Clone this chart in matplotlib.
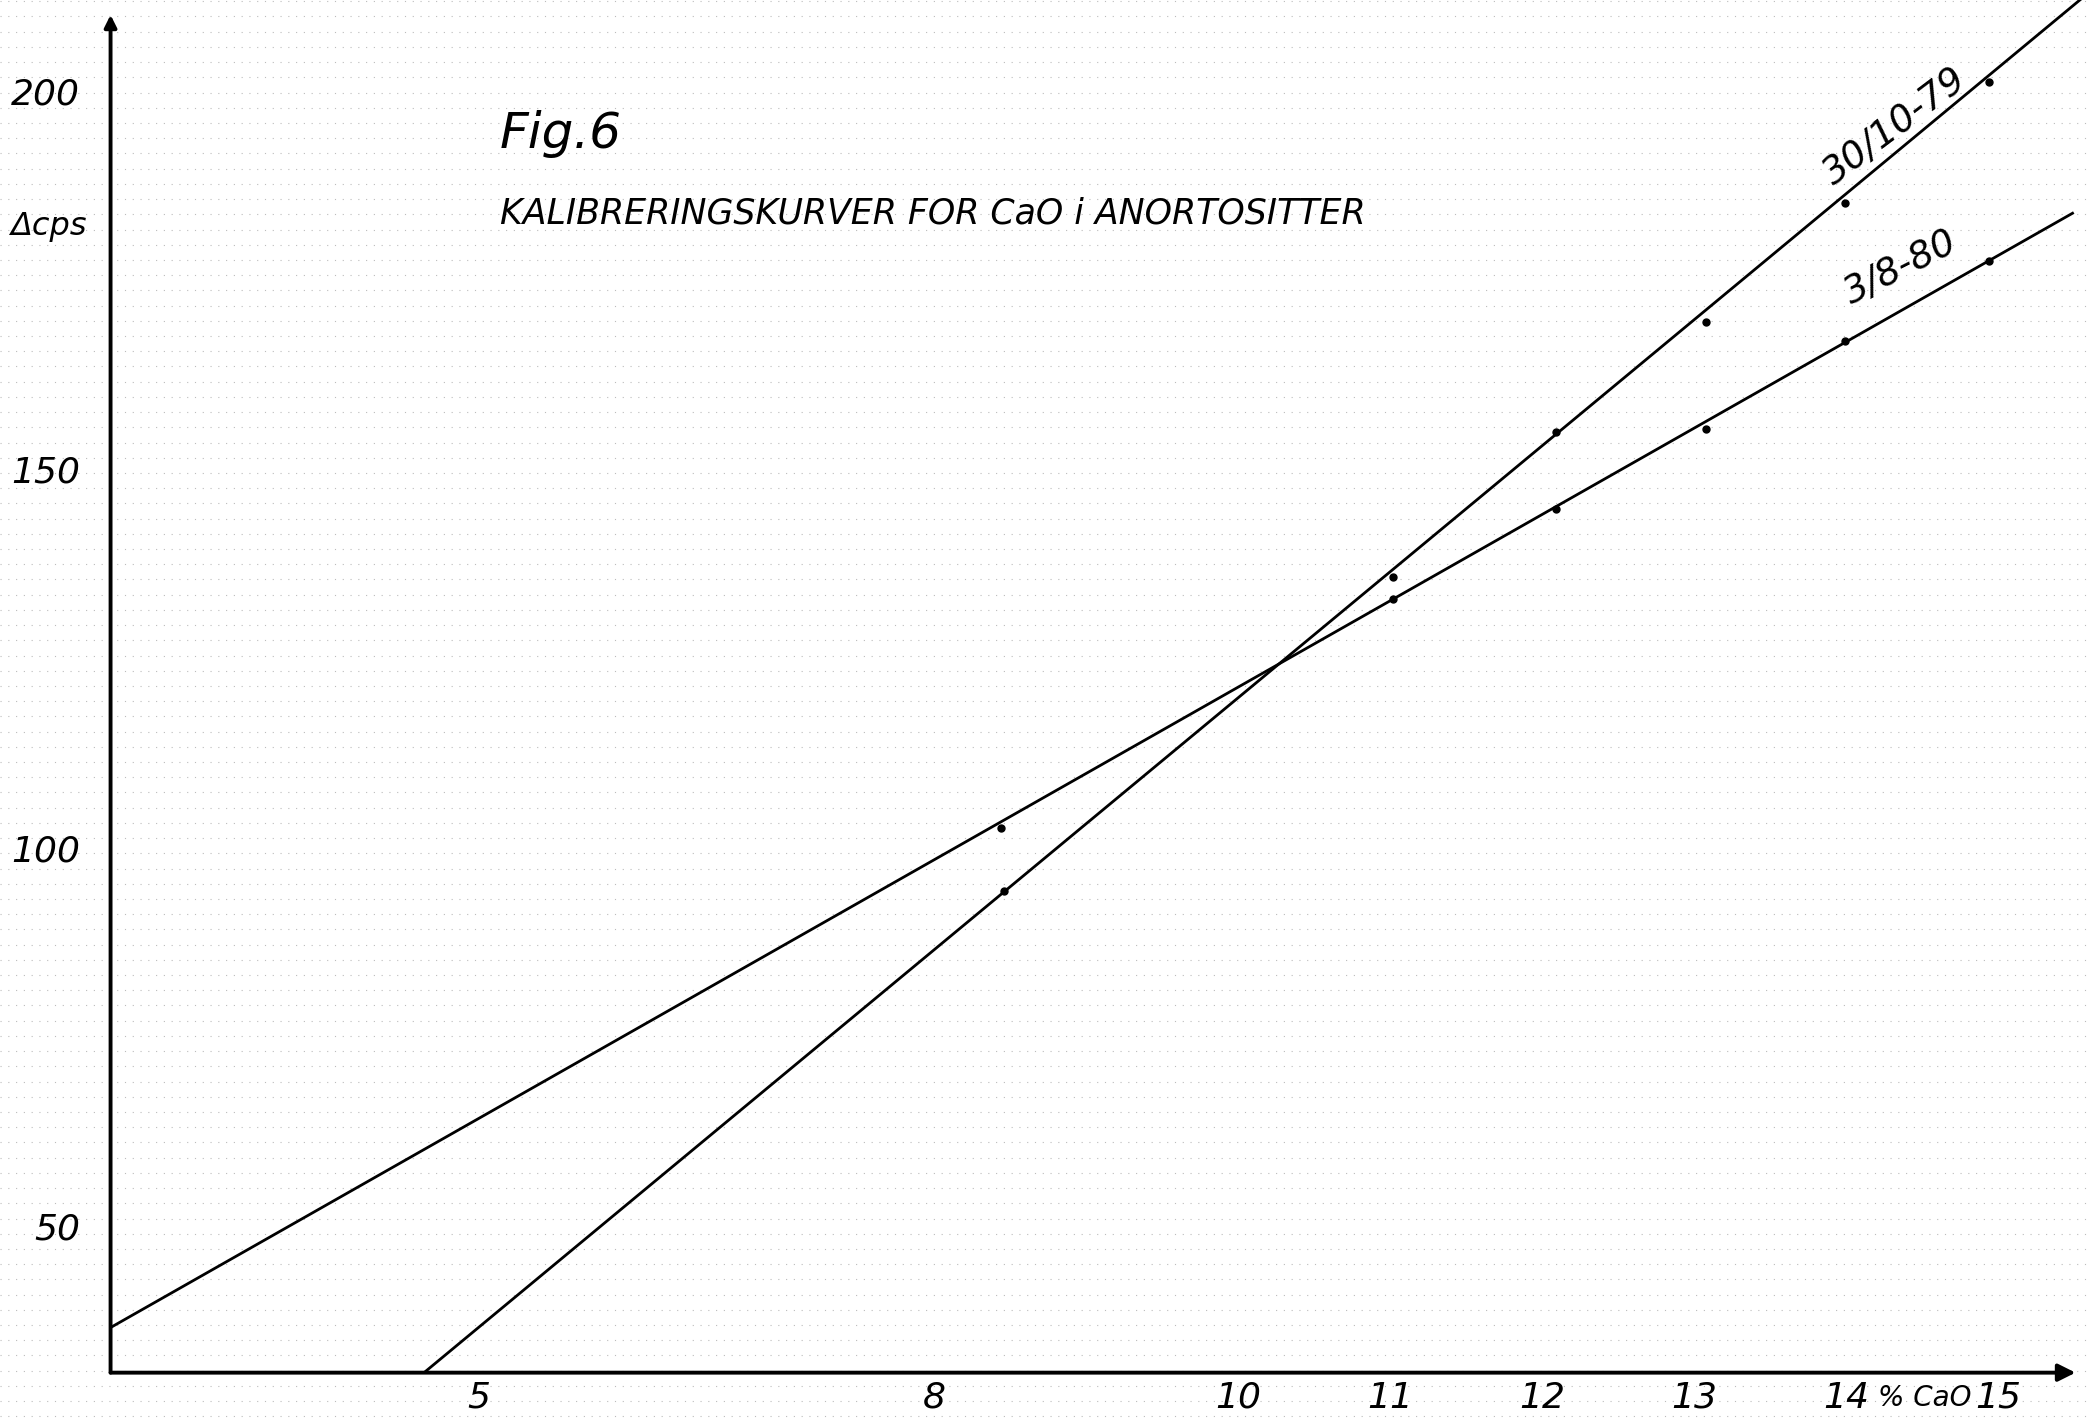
import matplotlib.pyplot as plt
import numpy as np

# calibration lines (x = % CaO, y = delta cps)
line_79_x = [4.64, 15.54]
line_79_y = [30.6, 212.0]
line_80_x = [2.58, 15.49]
line_80_y = [36.6, 183.8]

# measured points
pts_79_x = [8.46, 11.02, 12.09, 13.08, 13.99, 14.94]
pts_79_y = [94.2, 135.7, 154.9, 169.4, 185.2, 201.1]
pts_80_x = [8.44, 11.02, 12.09, 13.08, 13.99, 14.94]
pts_80_y = [102.6, 132.9, 144.7, 155.3, 166.9, 177.5]

x_ticks = [5, 8, 10, 11, 12, 13, 14, 15]
x_labels = ['5', '8', '10', '11', '12', '13', '14', '15']
y_ticks = [50, 100, 150, 200]
y_labels = ['50', '100', '150', '200']

HAND = ['DejaVu Sans Condensed', 'Liberation Sans Narrow', 'DejaVu Sans']
plt.rcParams['font.family'] = HAND
plt.rcParams['font.style'] = 'italic'

X0, X1 = 2.579, 15.605
Y0, Y1 = 30.63, 211.97


def paper(fig):
    # faint dotted rows of the graph paper
    bg = fig.add_axes([0, 0, 1, 1], zorder=-1)
    bg.set_xlim(0, 1)
    bg.set_ylim(0, 1)
    bg.axis('off')
    for yy in np.arange(0.004, 1.0, 0.0107):
        bg.axhline(yy, color='#bcbcbc', lw=0.8, dashes=(1, 6))


def display():
    fig = plt.figure(figsize=(20.9, 14.22), dpi=100)
    paper(fig)
    ax = fig.add_axes([0.0529, 0.0347, 0.9471, 0.9653])
    ax.patch.set_alpha(0)
    ax.set_xlim(X0, X1)
    ax.set_ylim(Y0, Y1)
    for s in ax.spines.values():
        s.set_visible(False)

    # hand-drawn axes with arrows
    ax.annotate('', xy=(15.51, Y0), xytext=(X0, Y0), annotation_clip=False,
                arrowprops=dict(arrowstyle='-|>', lw=2.8, color='black', mutation_scale=26,
                                shrinkA=0, shrinkB=0))
    ax.annotate('', xy=(X0, 210.0), xytext=(X0, Y0), annotation_clip=False,
                arrowprops=dict(arrowstyle='-|>', lw=2.8, color='black', mutation_scale=18,
                                shrinkA=0, shrinkB=0))

    ax.plot(line_79_x, line_79_y, color='black', lw=2.0)
    ax.plot(line_80_x, line_80_y, color='black', lw=2.0)
    ax.plot(pts_79_x, pts_79_y, 'o', color='black', ms=5)
    ax.plot(pts_80_x, pts_80_y, 'o', color='black', ms=5)

    ax.set_xticks(x_ticks, x_labels, fontsize=26)
    ax.set_yticks(y_ticks, y_labels, fontsize=26)
    ax.tick_params(length=0)
    ax.tick_params(axis='x', pad=6)
    ax.tick_params(axis='y', pad=22)

    ax.text(14.52, -0.008, '% CaO', transform=ax.get_xaxis_transform(),
            ha='center', va='top', fontsize=20)

    ax.text(14.32, 195.2, '30/10-79', rotation=37, rotation_mode='anchor',
            ha='center', va='center', fontsize=27)
    ax.text(14.36, 176.6, '3/8-80', rotation=27, rotation_mode='anchor',
            ha='center', va='center', fontsize=27)

    fig.text(0.005, 0.841, '\u0394cps', ha='left', va='center', fontsize=23)
    fig.text(0.239, 0.906, 'Fig.6', ha='left', va='center', fontsize=36)
    fig.text(0.239, 0.850, 'KALIBRERINGSKURVER FOR CaO i ANORTOSITTER',
             ha='left', va='center', fontsize=25)

    fig.savefig('out.png', dpi=100, facecolor='white')


def main():
    display()


if __name__ == '__main__':
    main()
